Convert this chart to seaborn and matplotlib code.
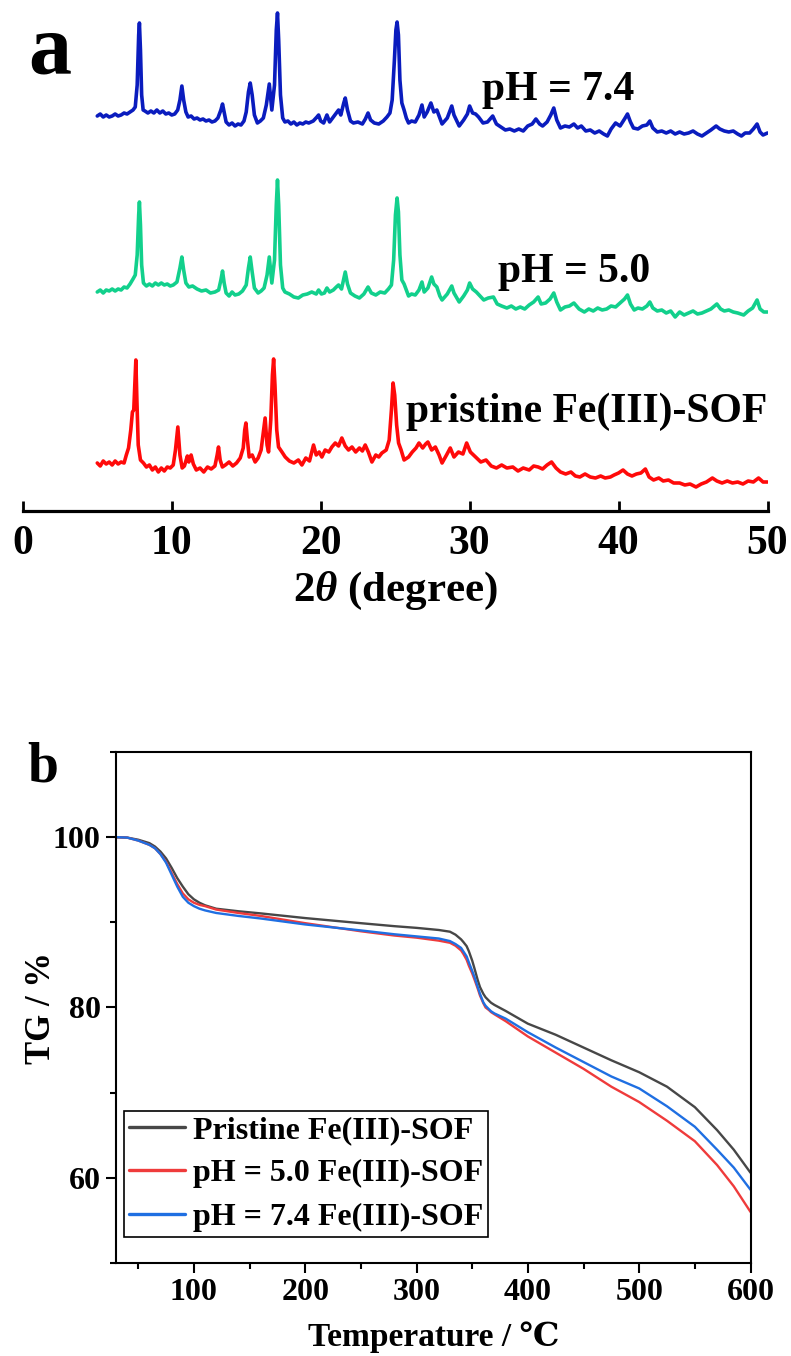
import matplotlib
matplotlib.use("Agg")
import matplotlib.pyplot as plt
import seaborn as sns
from matplotlib.ticker import MultipleLocator
from matplotlib.font_manager import FontProperties

# ---------------- XRD patterns: (2theta / degree, intensity / a.u.) ----------------
ph74_xrd = [(5.0,21),(5.2,23),(5.4,20),(5.6,22),(5.8,20),(6.0,21),(6.2,23),(6.4,21),(6.6,22),(6.8,24),(7.0,23),(7.2,25),(7.4,27),(7.55,30),(7.68,52),(7.78,102),(7.83,114),(7.9,87),(7.98,42),(8.08,27),(8.2,26),(8.4,24),(8.6,26),(8.8,24),(9.0,27),(9.2,24),(9.4,26),(9.6,23),(9.8,24),(10.0,22),(10.2,23),(10.4,27),(10.55,37),(10.68,51),(10.8,37),(10.95,25),(11.1,20),(11.3,21),(11.5,18),(11.7,19),(11.9,17),(12.1,18),(12.3,16),(12.5,17),(12.7,15),(12.9,16),(13.1,19),(13.3,27),(13.41,33),(13.52,25),(13.65,15),(13.85,12),(14.05,14),(14.25,11),(14.45,13),(14.65,12),(14.85,16),(15.0,25),(15.15,45),(15.27,54),(15.4,42),(15.55,22),(15.75,14),(15.95,16),(16.15,19),(16.35,32),(16.55,53),(16.72,27),(16.9,52),(17.02,107),(17.1,124),(17.18,97),(17.3,42),(17.45,19),(17.6,15),(17.8,16),(18.0,13),(18.2,15),(18.4,12),(18.6,14),(18.8,13),(19.0,15),(19.2,14),(19.5,16),(19.75,20),(19.86,22),(20.0,16),(20.2,14),(20.42,22),(20.6,15),(20.8,19),(21.0,23),(21.2,27),(21.35,22),(21.55,34),(21.65,39),(21.8,27),(22.0,16),(22.2,14),(22.5,15),(22.8,13),(23.0,18),(23.18,24),(23.35,17),(23.6,14),(23.9,13),(24.2,16),(24.45,20),(24.65,24),(24.8,37),(24.95,77),(25.05,107),(25.13,115),(25.22,102),(25.32,57),(25.45,34),(25.6,27),(25.75,19),(25.9,14),(26.1,16),(26.35,15),(26.6,22),(26.8,32),(26.95,20),(27.15,25),(27.4,34),(27.6,25),(27.8,27),(28.0,19),(28.15,13),(28.5,19),(28.8,31),(28.95,22),(29.3,11),(29.6,17),(29.85,23),(30.0,31),(30.2,24),(30.4,23),(30.6,20),(30.9,14),(31.2,15),(31.55,21),(31.8,13),(32.1,10),(32.4,7),(32.7,8),(33.0,6),(33.3,8),(33.6,6),(33.9,11),(34.2,13),(34.45,18),(34.7,13),(34.9,11),(35.2,15),(35.45,22),(35.65,29),(35.85,17),(36.1,9),(36.4,11),(36.7,10),(37.0,13),(37.25,9),(37.5,11),(37.8,6),(38.1,7),(38.4,4),(38.7,6),(39.0,3),(39.25,1),(39.5,8),(39.8,14),(40.1,11),(40.4,18),(40.6,23),(40.8,15),(41.0,9),(41.3,8),(41.6,11),(41.9,12),(42.1,16),(42.3,9),(42.6,5),(42.9,6),(43.2,4),(43.5,6),(43.8,3),(44.1,5),(44.4,3),(44.7,4),(45.0,6),(45.3,3),(45.6,1),(45.9,4),(46.2,7),(46.55,11),(46.8,8),(47.1,6),(47.4,5),(47.7,6),(48.0,3),(48.25,1),(48.5,4),(48.8,4),(49.05,8),(49.3,13),(49.5,5),(49.7,2),(50.0,4)]

ph50_xrd = [(5.0,23),(5.2,25),(5.4,22),(5.6,25),(5.8,24),(6.0,26),(6.2,24),(6.4,26),(6.6,25),(6.8,28),(7.0,27),(7.2,31),(7.4,36),(7.55,40),(7.68,60),(7.78,100),(7.83,113),(7.9,90),(7.98,50),(8.1,32),(8.3,29),(8.5,31),(8.7,29),(8.9,32),(9.1,30),(9.3,32),(9.5,30),(9.7,31),(9.9,29),(10.1,30),(10.35,33),(10.55,47),(10.68,58),(10.8,45),(10.95,32),(11.15,28),(11.4,29),(11.7,26),(12.0,24),(12.3,25),(12.6,22),(12.9,23),(13.15,25),(13.3,35),(13.41,44),(13.52,32),(13.65,22),(13.85,19),(14.05,23),(14.25,20),(14.5,21),(14.75,24),(15.0,30),(15.15,47),(15.27,58),(15.4,43),(15.55,27),(15.8,22),(16.0,24),(16.2,27),(16.4,40),(16.55,58),(16.72,32),(16.9,55),(17.02,110),(17.1,135),(17.18,110),(17.3,50),(17.45,27),(17.6,23),(17.9,21),(18.2,18),(18.5,17),(18.8,20),(19.1,21),(19.4,23),(19.7,21),(19.86,25),(20.05,21),(20.25,22),(20.42,27),(20.6,23),(20.85,25),(21.05,28),(21.2,30),(21.4,26),(21.55,36),(21.65,43),(21.8,31),(22.0,22),(22.3,19),(22.6,17),(22.9,21),(23.18,28),(23.4,22),(23.7,20),(24.0,23),(24.3,22),(24.55,26),(24.75,30),(24.9,55),(25.02,100),(25.13,117),(25.22,103),(25.32,60),(25.45,35),(25.6,31),(25.75,25),(25.9,19),(26.1,21),(26.35,20),(26.6,25),(26.8,33),(26.95,23),(27.2,27),(27.45,38),(27.6,31),(27.8,28),(28.0,19),(28.15,15),(28.5,21),(28.8,29),(28.95,22),(29.3,13),(29.6,19),(29.85,25),(30.0,32),(30.2,26),(30.45,23),(30.7,19),(30.95,15),(31.25,17),(31.6,18),(31.85,11),(32.15,9),(32.5,7),(32.8,9),(33.1,6),(33.4,8),(33.7,6),(34.0,10),(34.3,13),(34.6,18),(34.8,11),(35.1,12),(35.4,16),(35.65,22),(35.85,13),(36.1,5),(36.4,8),(36.7,9),(37.0,12),(37.35,6),(37.7,3),(38.0,6),(38.3,4),(38.6,7),(38.9,5),(39.2,6),(39.5,9),(39.8,8),(40.1,12),(40.4,16),(40.6,20),(40.8,11),(41.05,5),(41.3,7),(41.6,6),(41.9,9),(42.1,13),(42.3,7),(42.6,4),(42.9,5),(43.2,2),(43.5,4),(43.8,-2),(44.1,3),(44.4,0),(44.7,2),(45.0,4),(45.3,1),(45.6,2),(45.9,4),(46.2,6),(46.6,11),(46.85,6),(47.1,4),(47.4,5),(47.7,3),(48.0,2),(48.4,0),(48.7,4),(49.0,7),(49.3,15),(49.5,6),(49.75,3),(50.0,3)]

pristine_xrd = [(5.0,22),(5.2,19),(5.4,24),(5.6,21),(5.8,23),(6.0,20),(6.2,24),(6.4,21),(6.6,23),(6.8,22),(6.95,30),(7.1,37),(7.25,55),(7.36,73),(7.45,75),(7.52,100),(7.59,125),(7.66,85),(7.75,40),(7.9,25),(8.1,22),(8.3,18),(8.5,20),(8.7,15),(8.9,18),(9.1,13),(9.3,17),(9.5,14),(9.7,18),(9.9,17),(10.1,20),(10.25,35),(10.41,58),(10.55,30),(10.7,17),(10.85,19),(11.05,29),(11.15,23),(11.3,30),(11.45,21),(11.65,15),(11.9,17),(12.15,13),(12.4,18),(12.65,16),(12.9,19),(13.05,30),(13.14,38),(13.25,25),(13.4,18),(13.6,20),(13.85,23),(14.1,19),(14.35,22),(14.6,27),(14.8,37),(14.9,55),(14.98,62),(15.08,45),(15.2,28),(15.4,30),(15.6,23),(15.8,27),(16.0,35),(16.15,53),(16.27,67),(16.4,40),(16.5,33),(16.65,65),(16.76,110),(16.84,126),(16.93,100),(17.05,55),(17.17,38),(17.4,33),(17.62,28),(17.9,24),(18.2,22),(18.5,25),(18.74,20),(19.0,27),(19.25,24),(19.52,40),(19.7,30),(19.9,33),(20.08,28),(20.3,35),(20.55,33),(20.75,38),(20.98,42),(21.2,39),(21.42,47),(21.65,39),(21.87,35),(22.1,38),(22.35,33),(22.6,37),(22.8,34),(22.99,40),(23.2,33),(23.44,23),(23.7,30),(23.9,28),(24.11,32),(24.4,35),(24.6,45),(24.75,75),(24.86,102),(24.97,90),(25.1,60),(25.23,42),(25.4,35),(25.6,25),(25.9,28),(26.15,33),(26.4,37),(26.6,42),(26.85,37),(27.05,41),(27.2,43),(27.45,35),(27.7,38),(27.95,30),(28.15,22),(28.45,30),(28.7,37),(28.95,28),(29.25,33),(29.55,31),(29.8,42),(30.05,33),(30.4,28),(30.75,23),(31.1,25),(31.45,19),(31.8,17),(32.15,20),(32.5,17),(32.9,18),(33.25,14),(33.6,17),(34.0,15),(34.3,19),(34.6,18),(34.9,16),(35.2,20),(35.5,23),(35.8,17),(36.1,13),(36.45,11),(36.8,13),(37.1,9),(37.4,8),(37.75,11),(38.1,8),(38.45,7),(38.8,9),(39.1,7),(39.45,8),(39.7,10),(40.0,12),(40.3,15),(40.6,11),(40.9,9),(41.2,11),(41.5,12),(41.8,16),(42.05,8),(42.35,5),(42.7,7),(43.0,4),(43.35,5),(43.7,2),(44.1,2),(44.45,0),(44.8,1),(45.2,-2),(45.55,1),(45.9,3),(46.3,7),(46.6,4),(46.95,2),(47.3,4),(47.65,2),(48.0,3),(48.35,1),(48.7,4),(49.05,3),(49.4,7),(49.7,3),(50.0,3)]

xrd_labels = ["pristine Fe(III)-SOF", "pH = 5.0", "pH = 7.4"]
xrd_offsets = [26, 196, 374]
xrd_colors = ["#ff0a0a", "#12d08c", "#0a1cbe"]
xrd_label_pos = [(25.7, 89), (31.9, 229), (30.8, 411)]
xrd_ticks = [0, 10, 20, 30, 40, 50]

# ---------------- TG curves ----------------
tg_temperature = [30, 40, 50, 60, 65, 70, 75, 80, 85, 90, 95, 100, 105, 110, 120, 140, 160, 200,
                  250, 280, 300, 320, 330, 335, 340, 342, 345, 347, 350, 352, 355, 357, 360, 362,
                  365, 367, 370, 375, 380, 400, 425, 450, 475, 500, 525, 550, 570, 585, 600]
tg_pristine = [100.0, 99.95, 99.7, 99.3, 98.9, 98.3, 97.5, 96.4, 95.2, 94.2, 93.3, 92.7, 92.3,
               92.0, 91.6, 91.3, 91.05, 90.5, 89.9, 89.55, 89.35, 89.1, 88.9, 88.55, 88.0, 87.7,
               87.2, 86.6, 85.5, 84.6, 83.2, 82.4, 81.6, 81.2, 80.8, 80.55, 80.3, 79.95, 79.6,
               78.1, 76.8, 75.3, 73.8, 72.4, 70.7, 68.3, 65.6, 63.3, 60.6]
tg_ph50 = [100.0, 99.95, 99.6, 99.1, 98.7, 98.0, 97.1, 95.8, 94.5, 93.4, 92.7, 92.3, 92.05,
           91.9, 91.5, 91.1, 90.75, 89.9, 88.95, 88.45, 88.2, 87.85, 87.6, 87.25, 86.7, 86.3,
           85.6, 84.9, 84.0, 83.3, 82.2, 81.4, 80.5, 80.0, 79.7, 79.45, 79.2, 78.8, 78.4,
           76.6, 74.7, 72.8, 70.7, 68.9, 66.7, 64.3, 61.5, 59.0, 56.0]
tg_ph74 = [100.0, 99.95, 99.6, 99.1, 98.7, 98.0, 97.0, 95.6, 94.2, 93.0, 92.3, 91.9, 91.6,
           91.4, 91.1, 90.75, 90.45, 89.75, 89.05, 88.6, 88.35, 88.1, 87.8, 87.45, 87.0, 86.6,
           86.0, 85.3, 84.3, 83.6, 82.4, 81.6, 80.6, 80.2, 79.8, 79.55, 79.3, 79.0, 78.7,
           77.1, 75.3, 73.6, 71.9, 70.5, 68.4, 66.0, 63.3, 61.2, 58.6]
tg_labels = ["Pristine Fe(III)-SOF", "pH = 5.0 Fe(III)-SOF", "pH = 7.4 Fe(III)-SOF"]
tg_colors = ["#474747", "#ef3b3b", "#1f6fe2"]

# ---------------- style ----------------
sns.set_theme(style="ticks")
plt.rcParams["font.family"] = ["Liberation Serif", "DejaVu Serif"]
plt.rcParams["font.weight"] = "bold"
plt.rcParams["axes.labelweight"] = "bold"
for key in ["text.color", "axes.labelcolor", "xtick.color", "ytick.color", "axes.edgecolor"]:
    plt.rcParams[key] = "black"
plt.rcParams["mathtext.fontset"] = "custom"
plt.rcParams["mathtext.rm"] = "Liberation Serif:bold"
plt.rcParams["mathtext.it"] = "Liberation Serif:bold:italic"
plt.rcParams["mathtext.bf"] = "Liberation Serif:bold"

W, H = 791, 1356
fig = plt.figure(figsize=(W / 100, H / 100), dpi=100)

# ---------------- panel a: XRD ----------------
ax1 = fig.add_axes([22.8 / W, 1 - 511 / H, (767.5 - 22.8) / W, 511 / H])
for pattern, off, col in zip([pristine_xrd, ph50_xrd, ph74_xrd], xrd_offsets, xrd_colors):
    xs = [p[0] for p in pattern]
    ys = [p[1] + off for p in pattern]
    sns.lineplot(x=xs, y=ys, ax=ax1, color=col, lw=2.6, sort=False, estimator=None)
for lab, (tx, ty) in zip(xrd_labels, xrd_label_pos):
    ax1.text(tx, ty, lab, fontsize=30, fontweight="bold", va="baseline", ha="left")
ax1.set_xlim(0, 50)
ax1.set_ylim(0, 511)
ax1.set_xticks(xrd_ticks)
ax1.set_yticks([])
for s in ["left", "right", "top"]:
    ax1.spines[s].set_visible(False)
ax1.spines["bottom"].set_linewidth(2.3)
ax1.tick_params(axis="x", direction="in", length=7, width=2, pad=10, labelsize=30)
ax1.set_xlabel(r"2$\mathit{\theta}$ (degree)", fontsize=31, fontweight="bold", labelpad=5)
for lb in ax1.get_xticklabels():
    lb.set_fontweight("bold")
ax1.patch.set_alpha(0)

# ---------------- panel b: TG ----------------
ax2 = fig.add_axes([116 / W, 1 - 1263 / H, 634.5 / W, 511 / H])
for vals, lab, col in zip([tg_pristine, tg_ph50, tg_ph74], tg_labels, tg_colors):
    sns.lineplot(x=tg_temperature, y=vals, ax=ax2, color=col, lw=1.7, label=lab,
                 sort=False, estimator=None)
ax2.set_xlim(30, 600)
ax2.set_ylim(50, 110)
ax2.xaxis.set_major_locator(MultipleLocator(100))
ax2.xaxis.set_minor_locator(MultipleLocator(50))
ax2.yaxis.set_minor_locator(MultipleLocator(10))
ax2.set_yticks([60, 80, 100])
for s in ax2.spines.values():
    s.set_linewidth(1.5)
    s.set_color("black")
ax2.tick_params(which="major", direction="out", length=7, width=1.5, pad=4, labelsize=23)
ax2.tick_params(which="minor", direction="out", length=4, width=1.5)
for lb in ax2.get_xticklabels() + ax2.get_yticklabels():
    lb.set_fontweight("bold")
ax2.set_xlabel("Temperature / ℃", fontsize=24, fontweight="bold", labelpad=10)
ax2.set_ylabel("TG / %", fontsize=25, fontweight="bold", labelpad=-4)
leg = ax2.legend(loc="lower left", bbox_to_anchor=(8 / 634.5, 26 / 511), borderaxespad=0,
                 frameon=True, fancybox=False, edgecolor="black", framealpha=1,
                 handlelength=1.75, handletextpad=0.25, labelspacing=0.45, borderpad=0.15,
                 prop=FontProperties(family="Liberation Serif", weight="bold", size=23))
leg.get_frame().set_linewidth(1.2)
for ln in leg.get_lines():
    ln.set_linewidth(2.4)

# panel letters
fig.text(28 / W, 1 - 73 / H, "a", fontsize=62, fontweight="bold", va="baseline", ha="left")
fig.text(27 / W, 1 - 782 / H, "b", fontsize=40, fontweight="bold", va="baseline", ha="left")

fig.savefig("out.png", dpi=100)
